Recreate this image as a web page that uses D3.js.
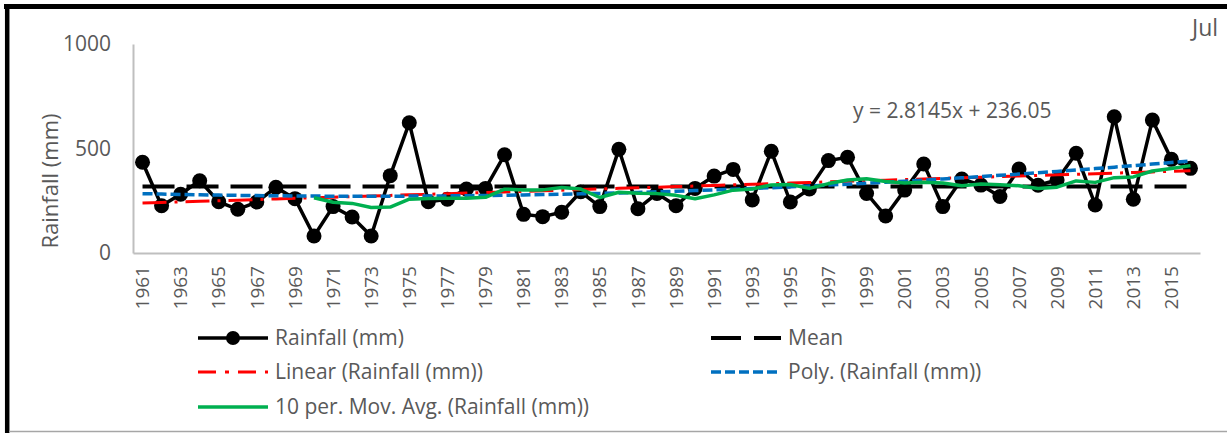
<!DOCTYPE html>
<html>
<head>
<meta charset="utf-8">
<script src="https://cdn.jsdelivr.net/npm/d3@7"></script>
<style>
  body { margin: 0; background: #fff; }
  text { font-family: "Open Sans", sans-serif; fill: #595959; }
</style>
</head>
<body>
<svg id="chart" width="1227" height="433"></svg>
<script>
// data
const years = [1961,1962,1963,1964,1965,1966,1967,1968,1969,1970,
  1971,1972,1973,1974,1975,1976,1977,1978,1979,1980,
  1981,1982,1983,1984,1985,1986,1987,1988,1989,1990,
  1991,1992,1993,1994,1995,1996,1997,1998,1999,2000,
  2001,2002,2003,2004,2005,2006,2007,2008,2009,2010,
  2011,2012,2013,2014,2015,2016];
const rainfall = [434,226,281,346,245,209,244,314,260,81,
  222,172,81,370,623,245,257,306,309,470,
  185,174,195,293,222,496,212,285,226,309,
  368,400,254,487,244,306,442,458,285,177,
  301,426,222,354,325,270,402,324,349,477,
  230,652,257,636,448,405];
const yTicks = [0, 500, 1000];
const xTickYears = years.filter((d, i) => i % 2 === 0);
const linSlope = 2.8145, linIntercept = 236.05;
const maPeriod = 10;
const legendNames = ["Rainfall (mm)", "Mean", "Linear (Rainfall (mm))",
  "Poly. (Rainfall (mm))", "10 per. Mov. Avg. (Rainfall (mm))"];

const svg = d3.select("#chart");

const x = d3.scaleBand().domain(years).range([133, 1200]);
const cx = d => x(d) + x.bandwidth() / 2;
const y = d3.scaleLinear().domain([0, 1000]).range([253, 44]);

// frame
svg.append("line").attr("x1", 4).attr("x2", 1227).attr("y1", 6.5).attr("y2", 6.5)
  .attr("stroke", "#000").attr("stroke-width", 5);
svg.append("line").attr("x1", 7.2).attr("x2", 7.2).attr("y1", 4).attr("y2", 433)
  .attr("stroke", "#000").attr("stroke-width", 4.5);
svg.append("line").attr("x1", 9).attr("x2", 1227).attr("y1", 431.5).attr("y2", 431.5)
  .attr("stroke", "#a6a6a6").attr("stroke-width", 1.5);

// axes
const yAxis = svg.append("g").attr("transform", "translate(133,0)")
  .call(d3.axisLeft(y).tickValues(yTicks).tickFormat(d3.format("d")).tickSize(0).tickPadding(22));
yAxis.select(".domain").attr("stroke", "#bfbfbf").attr("stroke-width", 2);
yAxis.selectAll("text").style("font-size", "21px").attr("fill", "#595959")
  .style("font-family", "Open Sans");

const xAxis = svg.append("g").attr("transform", "translate(0,253)")
  .call(d3.axisBottom(x).tickValues(xTickYears).tickSize(0));
xAxis.select(".domain").attr("stroke", "#bfbfbf").attr("stroke-width", 2);
xAxis.selectAll("text")
  .attr("transform", "rotate(-90)")
  .attr("x", -13).attr("y", 0).attr("dy", "0.35em")
  .attr("text-anchor", "end")
  .style("font-size", "19px").attr("fill", "#595959").style("font-family", "Open Sans");

svg.append("text")
  .attr("transform", "translate(58,181) rotate(-90)")
  .attr("text-anchor", "middle")
  .style("font-size", "22px")
  .text("Rainfall (mm)");

// series
const pts = years.map((yr, i) => ({ yr, v: rainfall[i], i: i + 1 }));
const line = d3.line().x(d => cx(d.yr)).y(d => y(d.v));

svg.append("path").datum(pts).attr("d", line)
  .attr("fill", "none").attr("stroke", "#000").attr("stroke-width", 3.5)
  .attr("stroke-linejoin", "round");
svg.selectAll("circle.pt").data(pts).join("circle").attr("class", "pt")
  .attr("cx", d => cx(d.yr)).attr("cy", d => y(d.v)).attr("r", 7.5).attr("fill", "#000");

// mean
const meanVal = d3.mean(rainfall);
svg.append("path").datum(pts.map(d => ({ yr: d.yr, v: meanVal }))).attr("d", line)
  .attr("fill", "none").attr("stroke", "#000").attr("stroke-width", 4)
  .attr("stroke-dasharray", "32,12");

// linear trend (equation from chart)
svg.append("path").datum(pts.map(d => ({ yr: d.yr, v: linSlope * d.i + linIntercept }))).attr("d", line)
  .attr("fill", "none").attr("stroke", "#ff0000").attr("stroke-width", 3)
  .attr("stroke-dasharray", "24,8,3,8");

// polynomial (order 2) trend, least squares on the data
function polyFit(xs, ys) {
  const s = k => d3.sum(xs, v => Math.pow(v, k));
  const t = k => d3.sum(xs, (v, j) => Math.pow(v, k) * ys[j]);
  const A = [[s(0), s(1), s(2), t(0)], [s(1), s(2), s(3), t(1)], [s(2), s(3), s(4), t(2)]];
  for (let c = 0; c < 3; c++) {
    for (let r = c + 1; r < 3; r++) {
      const f = A[r][c] / A[c][c];
      for (let k = c; k < 4; k++) A[r][k] -= f * A[c][k];
    }
  }
  const b = [0, 0, 0];
  for (let r = 2; r >= 0; r--) {
    let acc = A[r][3];
    for (let k = r + 1; k < 3; k++) acc -= A[r][k] * b[k];
    b[r] = acc / A[r][r];
  }
  return b;
}
const pc = polyFit(pts.map(d => d.i), rainfall);
svg.append("path").datum(pts.map(d => ({ yr: d.yr, v: pc[0] + pc[1] * d.i + pc[2] * d.i * d.i }))).attr("d", line)
  .attr("fill", "none").attr("stroke", "#0070c0").attr("stroke-width", 3.5)
  .attr("stroke-dasharray", "10,4");

// moving average
const ma = pts.slice(maPeriod - 1).map(d => ({
  yr: d.yr, v: d3.mean(rainfall.slice(d.i - maPeriod, d.i))
}));
svg.append("path").datum(ma).attr("d", line)
  .attr("fill", "none").attr("stroke", "#00b050").attr("stroke-width", 3.5)
  .attr("stroke-linejoin", "round");

// equation + corner label
svg.append("text").attr("x", 853).attr("y", 118).style("font-size", "21px")
  .text("y = " + linSlope + "x + " + linIntercept);
svg.append("text").attr("x", 1192).attr("y", 36).style("font-size", "23px").text("Jul");

// legend
const legendPos = [[0, 338], [1, 338], [0, 372], [1, 372], [0, 407]];
const colX = [198, 711];
const styles = [
  { stroke: "#000", w: 3.5, dash: null, marker: true },
  { stroke: "#000", w: 4, dash: "30,13" },
  { stroke: "#ff0000", w: 3, dash: "18,9,4,9" },
  { stroke: "#0070c0", w: 3.5, dash: "10,4" },
  { stroke: "#00b050", w: 3.5, dash: null }
];
legendNames.forEach((name, k) => {
  const [col, ly] = legendPos[k];
  const x0 = colX[col];
  const g = svg.append("g");
  g.append("line").attr("x1", x0).attr("x2", x0 + 70).attr("y1", ly).attr("y2", ly)
    .attr("stroke", styles[k].stroke).attr("stroke-width", styles[k].w)
    .attr("stroke-dasharray", styles[k].dash);
  if (styles[k].marker) g.append("circle").attr("cx", x0 + 35).attr("cy", ly).attr("r", 7).attr("fill", "#000");
  g.append("text").attr("x", x0 + 77).attr("y", ly).attr("dy", "0.35em")
    .style("font-size", "21px").text(name);
});
</script>
</body>
</html>
